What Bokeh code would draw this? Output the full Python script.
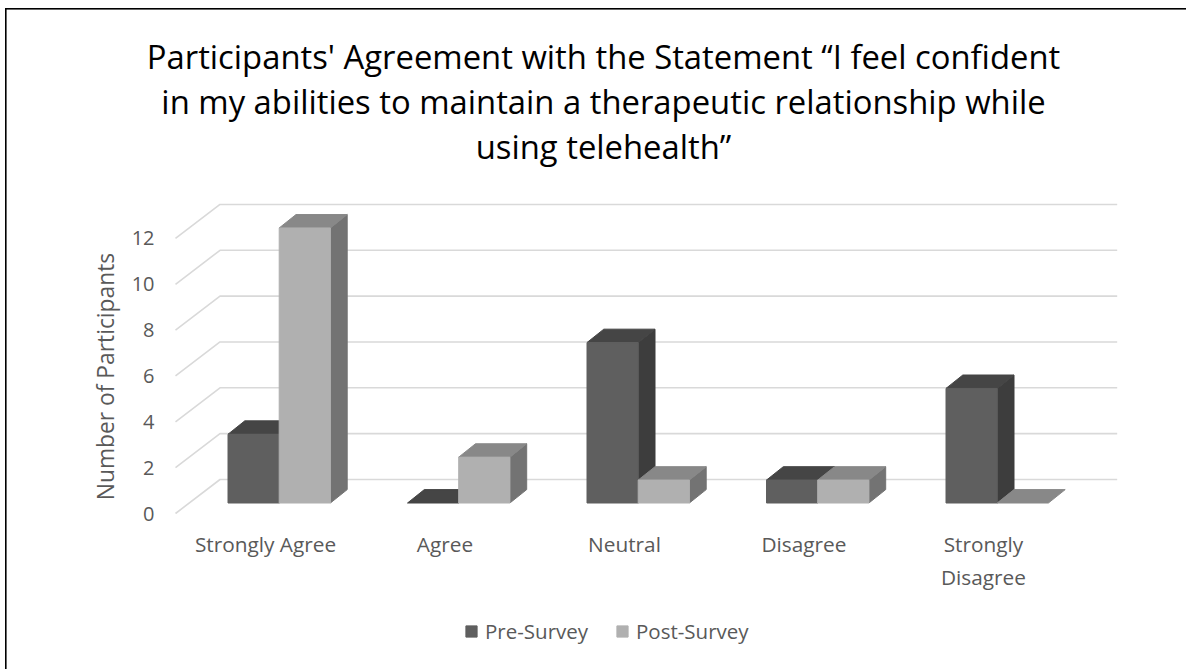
import math

from bokeh.plotting import figure
from bokeh.embed import file_html
from bokeh.resources import INLINE
from bokeh.models import Label, Legend, LegendItem, FixedTicker, Range1d

categories = ["Strongly Agree", "Agree", "Neutral", "Disagree", "Strongly\nDisagree"]
pre_survey = [3, 0, 7, 1, 5]
post_survey = [12, 2, 1, 1, 0]
y_ticks = [0, 2, 4, 6, 8, 10, 12]
y_title = "Number of Participants"
title_lines = ["Participants' Agreement with the Statement “I feel confident",
               "in my abilities to maintain a therapeutic relationship while",
               "using telehealth”"]

W, H = 1186, 669
BOTTOM = 513      # px of value 0
PX_X = 179.5      # px per category
PX_Y = 22.92      # px per unit
X0 = 265          # px of first category tick

xr = Range1d((0 - X0) / PX_X, (W - X0) / PX_X)
yr = Range1d((BOTTOM - H) / PX_Y, BOTTOM / PX_Y)

p = figure(width=W, height=H, x_range=xr, y_range=yr, output_backend="svg",
           toolbar_location=None, min_border=0)
p.outline_line_color = None
p.background_fill_color = None
p.border_fill_color = None
p.styles = {
    "background-color": "white",
    "background-image": "linear-gradient(#000,#000),linear-gradient(#000,#000)",
    "background-repeat": "no-repeat",
    "background-size": "1.6px 661px,1181px 1.6px",
    "background-position": "5px 8px,5px 8px",
}
p.xgrid.visible = False
p.ygrid.visible = False

# projection offsets in data units
WALL_DX, WALL_DY = 44.5 / PX_X, 34 / PX_Y
BAR_DX, BAR_DY = 16.8 / PX_X, 13.4 / PX_Y
FLOOR = 10.5 / PX_Y
BAR_W = 51.2 / PX_X
GROUP_SHIFT = 13.7 / PX_X
WALL_END = (1116.7 - X0) / PX_X
AX_X = (175 - X0) / PX_X

# gridlines
gx, gy = [], []
for t in y_ticks:
    gx.append([AX_X, AX_X + WALL_DX, WALL_END])
    gy.append([t, t + WALL_DY, t + WALL_DY])
p.multi_line(gx, gy, line_color="#d9d9d9", line_width=1.6)


def bars(values, start, front, top, side):
    lefts = [i + GROUP_SHIFT + start for i in range(len(values))]
    rights = [l + BAR_W for l in lefts]
    bot = [FLOOR] * len(values)
    tops = [v + FLOOR for v in values]
    nz = [i for i, v in enumerate(values) if v > 0]
    sx = [[rights[i], rights[i] + BAR_DX, rights[i] + BAR_DX, rights[i]] for i in nz]
    sy = [[FLOOR, FLOOR + BAR_DY, tops[i] + BAR_DY, tops[i]] for i in nz]
    tx = [[lefts[i], rights[i], rights[i] + BAR_DX, lefts[i] + BAR_DX] for i in range(len(values))]
    ty = [[tops[i], tops[i], tops[i] + BAR_DY, tops[i] + BAR_DY] for i in range(len(values))]
    p.patches(sx, sy, fill_color=side, line_color=side, line_width=1)
    p.patches(tx, ty, fill_color=top, line_color=top, line_width=1)
    return p.quad(left=[lefts[i] for i in nz], right=[rights[i] for i in nz],
                  bottom=[bot[i] for i in nz], top=[tops[i] for i in nz],
                  fill_color=front, line_color=front, line_width=1)


r_pre = bars(pre_survey, -BAR_W, "#5f5f5f", "#454545", "#3d3d3d")
r_post = bars(post_survey, 0, "#b0b0b0", "#888888", "#737373")

# axes
TXT = "#595959"
FONT = "Open Sans"
ya = p.yaxis[0]
ya.fixed_location = AX_X
ya.ticker = FixedTicker(ticks=y_ticks)
ya.axis_line_color = None
ya.major_tick_line_color = None
ya.minor_tick_line_color = None
ya.major_label_standoff = 15
ya.major_label_text_font = FONT
ya.major_label_text_font_size = "20px"
ya.major_label_text_color = TXT

p.add_layout(Label(x=(105 - X0) / PX_X, y=(BOTTOM - 376) / PX_Y, text=y_title, angle=math.pi / 2,
                   text_align="center", text_baseline="middle",
                   text_font=FONT, text_font_size="22.8px", text_color=TXT))

xa = p.xaxis[0]
xa.fixed_location = 0
xa.ticker = FixedTicker(ticks=list(range(len(categories))))
xa.major_label_overrides = {i: c for i, c in enumerate(categories)}
xa.axis_line_color = None
xa.major_tick_line_color = None
xa.minor_tick_line_color = None
xa.major_label_standoff = 10
xa.major_label_text_font = FONT
xa.major_label_text_font_size = "20.8px"
xa.major_label_text_color = TXT

# title lines, placed through the data scales
for line, py in zip(title_lines, (56, 101, 146)):
    p.add_layout(Label(x=(603 - X0) / PX_X, y=(BOTTOM - py) / PX_Y, text=line,
                       text_align="center", text_baseline="alphabetic",
                       text_font=FONT, text_font_size="32.8px", text_color="#000000"))

# legend
legend = Legend(items=[LegendItem(label="Pre-Survey", renderers=[r_pre]),
                       LegendItem(label="Post-Survey", renderers=[r_post])],
                orientation="horizontal", location=(464, 24),
                border_line_color=None, background_fill_alpha=0,
                glyph_width=14, glyph_height=14, label_text_font=FONT,
                label_text_font_size="20.5px", label_text_color=TXT, spacing=27,
                label_standoff=7, margin=0, padding=0)
p.add_layout(legend, "center")

open("out.html", "w").write(file_html(p, INLINE))
